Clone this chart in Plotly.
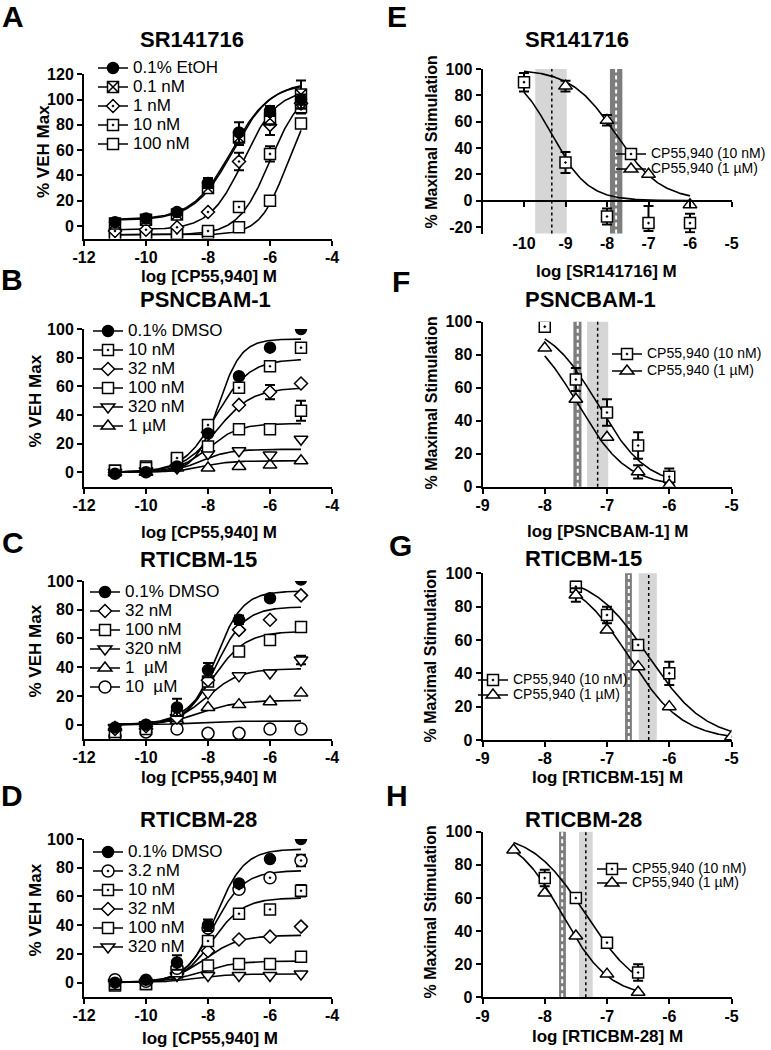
import numpy as np
import plotly.graph_objects as go

W, H = 771, 1050
FONT = "Liberation Sans, Arial, Helvetica, sans-serif"

# ======================= DATA =======================
# log molar CP55,940 concentrations used in panels A-D
log_cp55940 = [-11, -10, -9, -8, -7, -6, -5]

# ---- A: SR141716 ----
a_labels = ["0.1% EtOH", "0.1 nM", "1 nM", "10 nM", "100 nM"]
a_etoh = [3, 6, 11, 34, 74, 91, 100]
a_0p1nM = [2, 5, 9, 30, 70, 85, 104]
a_1nM = [-4, -3, -1, 11, 51, 80, 97]
a_10nM = [-7, -7, -6, -4, 15, 57, 94]
a_100nM = [-7, -7, -7, -6, -1, 20, 81]
a_err_etoh = [0, 0, 2, 4, 8, 4, 4]
a_err_0p1nM = [0, 0, 0, 2, 6, 5, 11]
a_err_1nM = [0, 0, 0, 0, 7, 8, 4]
a_err_10nM = [0, 0, 0, 0, 0, 6, 5]
a_err_100nM = [0, 0, 0, 0, 0, 0, 0]
a_fit_bottom = [5, 4.5, -3, -7, -7]
a_fit_top = [113, 114, 108, 110, 105]
a_fit_logec50 = [-7.25, -7.2, -6.85, -6.0, -5.45]
a_fit_hill = [0.7, 0.7, 0.8, 0.85, 1.0]

# ---- B: PSNCBAM-1 ----
b_labels = ["0.1% DMSO", "10 nM", "32 nM", "100 nM", "320 nM", "1 µM"]
b_dmso = [-1, 0, 4, 27, 67, 87, 100]
b_10nM = [1, 3, 10, 33, 59, 74, 87]
b_32nM = [0, 1, 5, 28, 47, 56, 62]
b_100nM = [1, 4, 9, 18, 30, 30, 43]
b_320nM = [0, 1, 3, 13, 15, 12, 23]
b_1uM = [0, 0, 3, 3, 4, 5, 8]
b_err_dmso = [0, 0, 0, 0, 0, 0, 0]
b_err_10nM = [0, 0, 0, 0, 0, 0, 0]
b_err_32nM = [0, 0, 0, 0, 0, 5, 0]
b_err_100nM = [0, 0, 0, 0, 0, 0, 7]
b_err_320nM = [0, 0, 0, 0, 0, 0, 0]
b_err_1uM = [0, 0, 0, 0, 0, 0, 0]
b_fit_top = [93, 79, 59, 34, 16, 8]
b_fit_logec50 = [-7.67, -7.74, -7.71, -8.0, -8.2, -8.2]
b_fit_hill = [1.18, 0.81, 0.77, 0.88, 0.96, 0.96]

# ---- C: RTICBM-15 ----
c_labels = ["0.1% DMSO", "32 nM", "100 nM", "320 nM", "1\u00a0 µM", "10\u00a0 µM"]
c_dmso = [-2, 0, 12, 38, 73, 88, 101]
c_32nM = [-3, -1, 5, 31, 66, 73, 90]
c_100nM = [-5, -3, 6, 30, 51, 59, 68]
c_320nM = [-2, 0, 5, 22, 34, 36, 45]
c_1uM = [-2, -1, 3, 12, 14, 16, 22]
c_10uM = [-8, -5, -3, -6, -6, -3, -3]
c_err_dmso = [0, 0, 6, 5, 3, 0, 0]
c_err_32nM = [0, 0, 0, 0, 0, 0, 0]
c_err_100nM = [0, 0, 0, 0, 0, 0, 0]
c_err_320nM = [0, 0, 0, 0, 0, 0, 3]
c_err_1uM = [0, 0, 0, 0, 0, 0, 0]
c_err_10uM = [0, 0, 0, 0, 0, 0, 0]
c_fit_top = [93, 82, 65, 39, 17, 2.5]
c_fit_logec50 = [-7.75, -7.74, -7.85, -8.03, -8.2, -8.5]
c_fit_hill = [1.0, 0.93, 0.81, 0.81, 0.72, 1.0]

# ---- D: RTICBM-28 ----
d_labels = ["0.1% DMSO", "3.2 nM", "10 nM", "32 nM", "100 nM", "320 nM"]
d_dmso = [0, 2, 14, 40, 69, 86, 100]
d_3p2nM = [2, 1, 10, 38, 65, 73, 85]
d_10nM = [-1, -1, 8, 29, 48, 51, 64]
d_32nM = [1, 0, 6, 22, 30, 32, 39]
d_100nM = [-2, -1, 7, 12, 13, 13, 18]
d_320nM = [0, 0, 5, 5, 5, 5, 6]
d_err_dmso = [0, 0, 5, 4, 0, 0, 0]
d_err_3p2nM = [0, 0, 0, 0, 0, 0, 4]
d_err_10nM = [0, 0, 0, 0, 0, 0, 4]
d_err_32nM = [0, 0, 0, 0, 0, 0, 0]
d_err_100nM = [0, 0, 0, 0, 0, 0, 0]
d_err_320nM = [0, 0, 0, 0, 0, 0, 0]
d_fit_top = [93, 78, 59, 33, 15, 6]
d_fit_logec50 = [-7.75, -7.82, -7.85, -8.1, -8.22, -8.4]
d_fit_hill = [0.95, 0.9, 0.88, 0.78, 0.78, 0.8]

# ---- right panels: % maximal stimulation vs log [antagonist] ----
r_labels = ["CP55,940 (10 nM)", "CP55,940 (1 µM)"]

e_x_10nM = [-10, -9, -8, -7, -6]
e_y_10nM = [90, 29, -12, -17, -17]
e_errp_10nM = [7, 8, 6, 13, 7]
e_errm_10nM = [7, 8, 6, 6, 7]
e_x_1uM = [-9, -8, -7, -6]
e_y_1uM = [87, 61, 20, -3]
e_err_1uM = [4, 4, 0, 0]
e_logic50 = [-9.33, -7.78]
e_hill = [1.0, 0.8]
e_ci_10nM = [-9.73, -8.97]
e_ci_1uM = [-7.93, -7.63]

f_x_10nM = [-8, -7.5, -7, -6.5, -6]
f_y_10nM = [97, 65, 45, 25, 6]
f_err_10nM = [0, 7, 8, 8, 5]
f_x_1uM = [-8, -7.5, -7, -6.5, -6]
f_y_1uM = [84, 53, 30, 9, 1]
f_err_1uM = [0, 0, 0, 4, 1]
f_logic50 = [-7.15, -7.47]
f_hill = [1.1, 1.1]
f_ci_10nM = [-7.32, -6.98]
f_ci_1uM = [-7.54, -7.41]

g_x_10nM = [-7.5, -7, -6.5, -6]
g_y_10nM = [92, 75, 57, 40]
g_err_10nM = [3, 5, 0, 7]
g_x_1uM = [-7.5, -7, -6.5, -6, -5]
g_y_1uM = [87, 66, 44, 20, 2]
g_err_1uM = [4, 0, 0, 0, 0]
g_logic50 = [-6.33, -6.65]
g_hill = [0.95, 1.0]
g_ci_10nM = [-6.49, -6.2]
g_ci_1uM = [-6.71, -6.6]

h_x_10nM = [-8, -7.5, -7, -6.5]
h_y_10nM = [72, 60, 33, 15]
h_err_10nM = [5, 0, 0, 5]
h_x_1uM = [-8.5, -8, -7.5, -7, -6.5]
h_y_1uM = [89, 63, 37, 14, 3]
h_err_1uM = [0, 0, 0, 0, 0]
h_logic50 = [-7.34, -7.72]
h_hill = [1.0, 1.15]
h_ci_10nM = [-7.45, -7.23]
h_ci_1uM = [-7.77, -7.66]

# tick values
left_xticks = [-12, -10, -8, -6, -4]
a_yticks = [0, 20, 40, 60, 80, 100, 120]
bcd_yticks = [0, 20, 40, 60, 80, 100]
e_xticks = [-10, -9, -8, -7, -6, -5]
e_yticks = [-20, 0, 20, 40, 60, 80, 100]
fgh_xticks = [-9, -8, -7, -6, -5]
fgh_yticks = [0, 20, 40, 60, 80, 100]

# text labels
panel_titles = ["SR141716", "PSNCBAM-1", "RTICBM-15", "RTICBM-28",
                "SR141716", "PSNCBAM-1", "RTICBM-15", "RTICBM-28"]
x_titles = ["log [CP55,940] M"] * 4 + ["log [SR141716] M", "log [PSNCBAM-1] M",
                                       "log [RTICBM-15] M", "log [RTICBM-28] M"]
y_titles = ["% VEH Max"] * 4 + ["% Maximal Stimulation"] * 4
panel_letters = ["A", "B", "C", "D", "E", "F", "G", "H"]

# ======================= STYLE =======================
SYM = {
    "filled": dict(symbol="circle", size=11, color="black"),
    "sqx": dict(symbol="square-x", size=11, color="white"),
    "diadot": dict(symbol="diamond-dot", size=10, color="white"),
    "diamond": dict(symbol="diamond", size=10, color="white"),
    "sqdot": dict(symbol="square-dot", size=11, color="white"),
    "sq": dict(symbol="square", size=11, color="white"),
    "tridn": dict(symbol="triangle-down", size=12, color="white"),
    "triup": dict(symbol="triangle-up", size=12, color="white"),
    "circ": dict(symbol="circle", size=12, color="white"),
    "circdot": dict(symbol="circle-dot", size=12, color="white"),
}
LW = 1.6


def marker(key):
    m = dict(SYM[key])
    m["line"] = dict(color="black", width=1.5)
    return m


def rise(x, bottom, top, logec50, hill):
    return bottom + (top - bottom) / (1 + 10 ** ((logec50 - x) * hill))


def fall(x, bottom, top, logic50, hill):
    return bottom + (top - bottom) / (1 + 10 ** ((x - logic50) * hill))


def errbar(plus, minus=None):
    d = dict(type="data", array=plus, color="black", thickness=2, width=5, visible=True)
    if minus is not None:
        d["arrayminus"] = minus
        d["symmetric"] = False
    return d


def span(txt, fs):
    return f'<span style="font-size:{fs}px">{txt}</span>'


fig = go.Figure()

# ---------- left panels (A-D) ----------
left_panels = [
    dict(ax="", legend="legend", labels=a_labels,
         series=[a_etoh, a_0p1nM, a_1nM, a_10nM, a_100nM],
         errs=[a_err_etoh, a_err_0p1nM, a_err_1nM, a_err_10nM, a_err_100nM],
         syms=["filled", "sqx", "diadot", "sqdot", "sq"],
         bottom=a_fit_bottom, top=a_fit_top, ec=a_fit_logec50, hill=a_fit_hill),
    dict(ax="2", legend="legend2", labels=b_labels,
         series=[b_dmso, b_10nM, b_32nM, b_100nM, b_320nM, b_1uM],
         errs=[b_err_dmso, b_err_10nM, b_err_32nM, b_err_100nM, b_err_320nM, b_err_1uM],
         syms=["filled", "sqdot", "diamond", "sq", "tridn", "triup"],
         bottom=[0] * 6, top=b_fit_top, ec=b_fit_logec50, hill=b_fit_hill),
    dict(ax="3", legend="legend3", labels=c_labels,
         series=[c_dmso, c_32nM, c_100nM, c_320nM, c_1uM, c_10uM],
         errs=[c_err_dmso, c_err_32nM, c_err_100nM, c_err_320nM, c_err_1uM, c_err_10uM],
         syms=["filled", "diamond", "sq", "tridn", "triup", "circ"],
         bottom=[0] * 6, top=c_fit_top, ec=c_fit_logec50, hill=c_fit_hill),
    dict(ax="4", legend="legend4", labels=d_labels,
         series=[d_dmso, d_3p2nM, d_10nM, d_32nM, d_100nM, d_320nM],
         errs=[d_err_dmso, d_err_3p2nM, d_err_10nM, d_err_32nM, d_err_100nM, d_err_320nM],
         syms=["filled", "circdot", "sqdot", "diamond", "sq", "tridn"],
         bottom=[0] * 6, top=d_fit_top, ec=d_fit_logec50, hill=d_fit_hill),
]

xc_left = np.linspace(min(log_cp55940), max(log_cp55940), 200)
for p in left_panels:
    xa, ya = "x" + p["ax"], "y" + p["ax"]
    for i in range(len(p["series"])):
        fig.add_trace(go.Scatter(
            x=xc_left, y=rise(xc_left, p["bottom"][i], p["top"][i], p["ec"][i], p["hill"][i]),
            mode="lines", line=dict(color="black", width=LW), showlegend=False,
            xaxis=xa, yaxis=ya, hoverinfo="skip"))
    for i in range(len(p["series"]))[::-1]:
        fig.add_trace(go.Scatter(
            x=log_cp55940, y=p["series"][i], mode="markers", marker=marker(p["syms"][i]),
            error_y=errbar(p["errs"][i]), showlegend=False, xaxis=xa, yaxis=ya))
    for i in range(len(p["series"])):
        fig.add_trace(go.Scatter(
            x=[None], y=[None], mode="lines+markers", name=span(p["labels"][i], 17),
            marker=marker(p["syms"][i]), line=dict(color="black", width=LW),
            legend=p["legend"], xaxis=xa, yaxis=ya))

# ---------- right panels (E-H) ----------
right_panels = [
    dict(ax="5", legends=["legend5", "legend6"],
         xs=[e_x_10nM, e_x_1uM], ys=[e_y_10nM, e_y_1uM],
         errs=[errbar(e_errp_10nM, e_errm_10nM), errbar(e_err_1uM)],
         ic=e_logic50, hill=e_hill, crange=[-10, -6], ci=[e_ci_10nM, e_ci_1uM]),
    dict(ax="6", legends=["legend7", "legend8"],
         xs=[f_x_10nM, f_x_1uM], ys=[f_y_10nM, f_y_1uM],
         errs=[errbar(f_err_10nM), errbar(f_err_1uM)],
         ic=f_logic50, hill=f_hill, crange=[-8, -6], ci=[f_ci_10nM, f_ci_1uM]),
    dict(ax="7", legends=["legend9", "legend10"],
         xs=[g_x_10nM, g_x_1uM], ys=[g_y_10nM, g_y_1uM],
         errs=[errbar(g_err_10nM), errbar(g_err_1uM)],
         ic=g_logic50, hill=g_hill, crange=[-7.5, -5], ci=[g_ci_10nM, g_ci_1uM]),
    dict(ax="8", legends=["legend11", "legend12"],
         xs=[h_x_10nM, h_x_1uM], ys=[h_y_10nM, h_y_1uM],
         errs=[errbar(h_err_10nM), errbar(h_err_1uM)],
         ic=h_logic50, hill=h_hill, crange=[-8.5, -6.5], ci=[h_ci_10nM, h_ci_1uM]),
]
r_syms = ["sqdot", "triup"]

shapes = []
for p in right_panels:
    xa, ya = "x" + p["ax"], "y" + p["ax"]
    xc = np.linspace(p["crange"][0], p["crange"][1], 200)
    for i in range(2):
        fig.add_trace(go.Scatter(
            x=xc, y=fall(xc, 0, 100, p["ic"][i], p["hill"][i]), mode="lines",
            line=dict(color="black", width=LW), showlegend=False,
            xaxis=xa, yaxis=ya, hoverinfo="skip"))
    for i in range(2):
        fig.add_trace(go.Scatter(
            x=p["xs"][i], y=p["ys"][i], mode="markers", marker=marker(r_syms[i]),
            error_y=p["errs"][i], showlegend=False, xaxis=xa, yaxis=ya))
    for i in range(2):
        fig.add_trace(go.Scatter(
            x=[None], y=[None], mode="lines+markers", name=span(r_labels[i], 14),
            marker=marker(r_syms[i]), line=dict(color="black", width=LW),
            legend=p["legends"][i], xaxis=xa, yaxis=ya))
    # confidence bands: light = 10 nM CP55,940 curve, dark = 1 µM curve
    ci_l, ci_d = p["ci"]
    shapes += [
        dict(type="rect", xref=xa, yref=ya + " domain", x0=ci_l[0], x1=ci_l[1], y0=0, y1=1,
             fillcolor="#d6d6d6", line=dict(width=0), layer="below"),
        dict(type="line", xref=xa, yref=ya + " domain", x0=p["ic"][0], x1=p["ic"][0], y0=0, y1=1,
             line=dict(color="black", width=1.5, dash="dot"), layer="below"),
        dict(type="rect", xref=xa, yref=ya + " domain", x0=ci_d[0], x1=ci_d[1], y0=0, y1=1,
             fillcolor="#7d7d7d", line=dict(width=0), layer="below"),
        dict(type="line", xref=xa, yref=ya + " domain", x0=p["ic"][1], x1=p["ic"][1], y0=0, y1=1,
             line=dict(color="white", width=2, dash="4px,3px"), layer="below"),
    ]

# dummy trace so the overlaid zero-line axis in panel E is drawn
fig.add_trace(go.Scatter(x=[None], y=[None], xaxis="x9", yaxis="y5", showlegend=False))

# ======================= LAYOUT =======================
TICK_FONT = dict(family=FONT, size=16, color="black", weight="bold")
AXIS = dict(showline=True, linecolor="black", linewidth=2, ticks="outside", ticklen=5,
            tickwidth=2, tickcolor="black", showgrid=False, zeroline=False,
            tickfont=TICK_FONT, automargin=False, fixedrange=True)

LEFT_X = (84, 332)
RIGHT_X = (482.5, 731.5)
# (suffix, x-domain px, y-domain px (top,bottom), xrange, yrange, xticks, yticks)
panels_layout = [
    ("", LEFT_X, (74.3, 238.6), [-12, -4], [-10, 120], left_xticks, a_yticks),
    ("2", LEFT_X, (329, 486.6), [-12, -4], [-10, 100], left_xticks, bcd_yticks),
    ("3", LEFT_X, (581, 739.1), [-12, -4], [-10, 100], left_xticks, bcd_yticks),
    ("4", LEFT_X, (839, 997), [-12, -4], [-10, 100], left_xticks, bcd_yticks),
    ("5", RIGHT_X, (69, 233.6), [-11, -5], [-25, 100], e_xticks, e_yticks),
    ("6", RIGHT_X, (321.7, 486.7), [-9, -5], [0, 100], fgh_xticks, fgh_yticks),
    ("7", RIGHT_X, (573.3, 740), [-9, -5], [0, 100], fgh_xticks, fgh_yticks),
    ("8", RIGHT_X, (831.7, 997.3), [-9, -5], [0, 100], fgh_xticks, fgh_yticks),
]

layout = {}
for suf, xd, yd, xr, yr, xt, yt in panels_layout:
    layout["xaxis" + suf] = dict(
        AXIS, domain=[xd[0] / W, xd[1] / W], range=xr, anchor="y" + suf,
        tickvals=xt, ticktext=[str(v) for v in xt], ticklabelstandoff=-2)
    layout["yaxis" + suf] = dict(
        AXIS, domain=[1 - yd[1] / H, 1 - yd[0] / H], range=yr, anchor="x" + suf,
        tickvals=yt, ticktext=[str(v) for v in yt])

# panel E: labels at the bottom, axis line + ticks drawn at y = 0
layout["xaxis5"].update(showline=False, ticks="", ticklabelstandoff=-2)
e_top, e_bot = 69, 233.6
e_zero_px = e_top + (100 - 0) / 125 * (e_bot - e_top)
layout["xaxis9"] = dict(
    AXIS, overlaying="x5", anchor="free", position=1 - e_zero_px / H,
    domain=[RIGHT_X[0] / W, RIGHT_X[1] / W], range=[-11, -5],
    tickvals=e_xticks, showticklabels=False)

# legends
LEG = dict(xanchor="left", yanchor="top", bgcolor="rgba(0,0,0,0)", borderwidth=0,
           itemwidth=30, tracegroupgap=0, itemclick=False, itemdoubleclick=False)
left_leg_pos = {"legend": (93, 68), "legend2": (88, 331), "legend3": (85, 592), "legend4": (88, 852)}
for k, (lx, ly) in left_leg_pos.items():
    layout[k] = dict(LEG, x=lx / W, y=1 - (ly - 14.5) / H,
                     font=dict(family=FONT, size=12, color="black"))
right_leg_pos = {
    "legend5": (611, 154), "legend6": (611, 169),
    "legend7": (607, 354), "legend8": (607, 371),
    "legend9": (473, 680), "legend10": (473, 695),
    "legend11": (592, 869), "legend12": (592, 883),
}
for k, (lx, ly) in right_leg_pos.items():
    layout[k] = dict(LEG, x=lx / W, y=1 - (ly - 14.5) / H,
                     font=dict(family=FONT, size=10, color="black"))

# titles, axis titles and panel letters (pixel positions, converted to paper)
annotations = []


def ann(text, x, y, size, xanchor="center", angle=0, bold=True):
    annotations.append(dict(text=text, x=x / W, y=1 - y / H, xref="paper", yref="paper",
                            xanchor=xanchor, yanchor="middle", showarrow=False, textangle=angle,
                            font=dict(family=FONT, size=size, color="black",
                                      weight="bold" if bold else "normal")))


title_pos = [(138, 39), (138, 299), (138, 559), (138, 819), (523, 39), (523, 299), (523, 558), (523, 819)]
xtitle_pos = [(209, 276), (209, 532), (209, 777), (210, 1038), (606, 272), (607, 531.5), (607, 777.5), (607, 1036)]
ytitle_pos = [(43, 152), (34.5, 401), (34.5, 651), (34.5, 910), (430.5, 142), (430.5, 403), (429.5, 656), (429.5, 912)]
letter_pos = [(12.5, 16.5), (11.7, 280), (12.5, 542.5), (11.5, 795), (397.5, 16.5), (401, 281.5), (400, 545), (397.5, 795.5)]

for i in range(8):
    ann(panel_titles[i], *title_pos[i], 22, xanchor="left")
    ann(x_titles[i], *xtitle_pos[i], 17)
    ann(y_titles[i], *ytitle_pos[i], 17 if i < 4 else 16, angle=-90)
    ann(panel_letters[i], *letter_pos[i], 30)

fig.update_layout(
    width=W, height=H, autosize=False,
    margin=dict(l=0, r=0, t=0, b=0, pad=0, autoexpand=False),
    paper_bgcolor="white", plot_bgcolor="rgba(0,0,0,0)",
    font=dict(family=FONT, color="black"),
    showlegend=True, hovermode=False,
    shapes=shapes, annotations=annotations, **layout)

# remove the browser's default 8px page margin so the figure fills the window exactly
fig.write_html("out.html", config={"displayModeBar": False},
               post_script="document.body.style.margin='0px';document.body.style.overflow='hidden';")
